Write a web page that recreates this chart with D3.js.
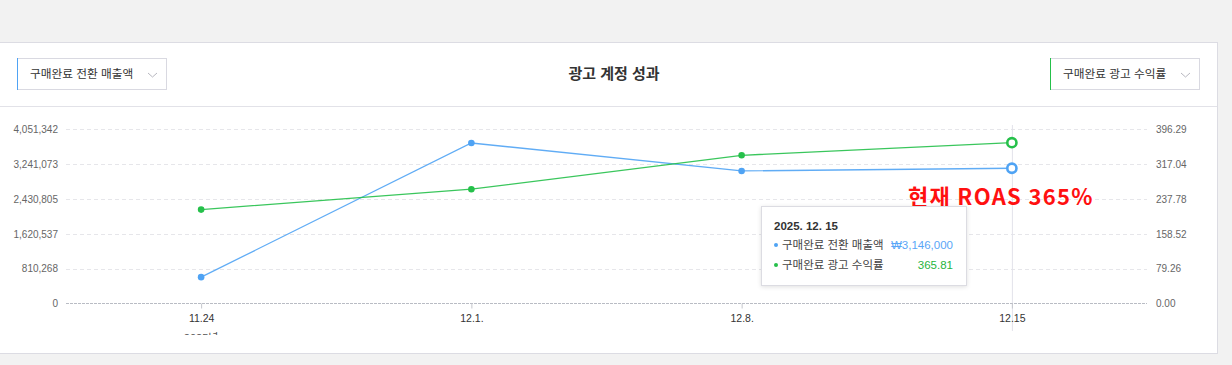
<!DOCTYPE html>
<html><head><meta charset="utf-8">
<script src="https://cdn.jsdelivr.net/npm/d3@7"></script>
<style>
html,body{margin:0;padding:0;background:#f2f2f2;}
svg{display:block;font-family:"Liberation Sans","Noto Sans CJK KR",sans-serif;}
</style></head>
<body><svg id="c" width="1232" height="365"></svg>
<script>
const categories = ['11.24','12.1.','12.8.','12.15'];
const salesValues = [613000, 3733000, 3083000, 3146000];
const roasValues = [213.6, 260.0, 337.2, 365.81];
const leftTicks = [0, 810268, 1620537, 2430805, 3241073, 4051342];
const rightTicks = [0, 79.26, 158.52, 237.78, 317.04, 396.29];
const rightTickLabels = ['0.00','79.26','158.52','237.78','317.04','396.29'];
const seriesNames = ['구매완료 전환 매출액','구매완료 광고 수익률'];
const title = '광고 계정 성과';
const tooltipDate = '2025. 12. 15';
const tooltipValues = ['₩3,146,000','365.81'];
const annotation = '현재 ROAS 365%';
const activeIndex = 3;

const blue = '#4fa3f4', green = '#25c04a';
const svg = d3.select('#c');

// card
svg.append('rect').attr('x',-2).attr('y',42.5).attr('width',1219.5).attr('height',311)
  .attr('fill','#fff').attr('stroke','#dcdce3');
svg.append('line').attr('x1',0).attr('x2',1217).attr('y1',106.5).attr('y2',106.5).attr('stroke','#e2e2e8');

// title
svg.append('text').attr('x',614).attr('y',79).attr('text-anchor','middle')
  .attr('font-size',15).attr('font-weight','bold').attr('fill','#333').text(title);

// dropdowns
function dropdown(x, label, color){
  const g = svg.append('g');
  g.append('rect').attr('x',x+0.5).attr('y',58.5).attr('width',149).attr('height',31)
    .attr('fill','#fff').attr('stroke','#d9d9e1');
  g.append('line').attr('x1',x+0.5).attr('x2',x+0.5).attr('y1',58).attr('y2',90).attr('stroke',color);
  g.append('text').attr('x',x+13).attr('y',78).attr('font-size',11.7).attr('fill','#333').text(label);
  g.append('path').attr('d',`M${x+131},${73} l4.5,4 l4.5,-4`).attr('fill','none').attr('stroke','#b8b8c0').attr('stroke-width',1);
}
dropdown(17, seriesNames[0], blue);
dropdown(1050, seriesNames[1], green);

// scales
const x = d3.scalePoint().domain(categories).range([66,1147]).padding(0.5);
const yL = d3.scaleLinear().domain([0, 4051342]).range([303.5, 129.3]);
const yR = d3.scaleLinear().domain([0, 396.29]).range([303.5, 129.3]);

// gridlines
svg.append('g').selectAll('line').data(leftTicks.slice(1)).join('line')
  .attr('x1',66).attr('x2',1147).attr('y1',d=>Math.round(yL(d))+0.5).attr('y2',d=>Math.round(yL(d))+0.5)
  .attr('stroke','#e6e6ea').attr('stroke-dasharray','4,3');

// left axis
const axL = svg.append('g').attr('transform','translate(66,0)')
  .call(d3.axisLeft(yL).tickValues(leftTicks).tickSize(0).tickPadding(8).tickFormat(d3.format(',')));
axL.select('.domain').remove();
axL.selectAll('text').attr('font-size',10).attr('fill','#666').attr('font-family','Liberation Sans, sans-serif');

// right axis
const axR = svg.append('g').attr('transform','translate(1147,0)')
  .call(d3.axisRight(yR).tickValues(rightTicks).tickSize(0).tickPadding(9).tickFormat((d,i)=>rightTickLabels[i]));
axR.select('.domain').remove();
axR.selectAll('text').attr('font-size',10).attr('fill','#666').attr('font-family','Liberation Sans, sans-serif');

// crosshair
svg.append('line').attr('x1',x(categories[activeIndex])+0.5).attr('x2',x(categories[activeIndex])+0.5)
  .attr('y1',125).attr('y2',331).attr('stroke','#e2e2ea');

// bottom axis
const axB = svg.append('g').attr('transform','translate(0,303.5)')
  .call(d3.axisBottom(x).tickSize(5).tickPadding(6));
axB.select('.domain').attr('d','M66,0H1147').attr('stroke','#b9bcc4').attr('stroke-dasharray','3,1');
axB.selectAll('.tick line').attr('stroke','#c4c6cc');
axB.selectAll('text').attr('font-size',10.5).attr('fill','#333').attr('font-family','Liberation Sans, sans-serif');

// clipped secondary label
const clip = svg.append('defs').append('clipPath').attr('id','bclip');
clip.append('rect').attr('x',0).attr('y',0).attr('width',1232).attr('height',335);
svg.append('text').attr('clip-path','url(#bclip)').attr('x',x(categories[0])).attr('y',342)
  .attr('text-anchor','middle').attr('font-size',11).attr('fill','#555').text('2025년');

// lines
const lineL = d3.line().x((d,i)=>x(categories[i])).y(d=>yL(d));
const lineR = d3.line().x((d,i)=>x(categories[i])).y(d=>yR(d));
svg.append('path').datum(salesValues).attr('d',lineL).attr('fill','none').attr('stroke',blue).attr('stroke-width',1.3).attr('stroke-opacity',0.9);
svg.append('path').datum(roasValues).attr('d',lineR).attr('fill','none').attr('stroke',green).attr('stroke-width',1.3).attr('stroke-opacity',0.9);

function markers(vals, sc, color){
  svg.append('g').selectAll('circle').data(vals).join('circle')
    .attr('cx',(d,i)=>x(categories[i])).attr('cy',d=>sc(d))
    .attr('r',(d,i)=>i===activeIndex?4.6:3.3)
    .attr('fill',(d,i)=>i===activeIndex?'#fff':color)
    .attr('stroke',color).attr('stroke-width',(d,i)=>i===activeIndex?2.6:0);
}
markers(salesValues, yL, blue);
markers(roasValues, yR, green);

// annotation
svg.append('text').attr('x',908).attr('y',205).attr('font-size',22).attr('font-weight','bold')
  .attr('letter-spacing',1.3)
  .attr('fill','#ff1010').attr('font-family','Noto Sans CJK KR, sans-serif').text(annotation);

// tooltip
const defs = svg.select('defs');
const f = defs.append('filter').attr('id','sh').attr('x','-10%').attr('y','-10%').attr('width','130%').attr('height','140%');
f.append('feDropShadow').attr('dx',0).attr('dy',1).attr('stdDeviation',2).attr('flood-color','#000').attr('flood-opacity',0.12);
const tt = svg.append('g').attr('transform','translate(761,206)');
tt.append('rect').attr('x',0.5).attr('y',0.5).attr('width',205).attr('height',79).attr('fill','#fff')
  .attr('stroke','#dcdce2').attr('filter','url(#sh)');
tt.append('text').attr('x',13).attr('y',24).attr('font-size',11.5).attr('font-weight','bold').attr('fill','#333').text(tooltipDate);
const rows = [[blue, '#5aa6f7'],[green,'#1fb53e']];
rows.forEach((r,i)=>{
  const yy = 43 + i*20;
  tt.append('circle').attr('cx',15).attr('cy',yy-4).attr('r',2).attr('fill',r[0]);
  tt.append('text').attr('x',21).attr('y',yy).attr('font-size',11.5).attr('fill','#444').text(seriesNames[i]);
  tt.append('text').attr('x',192).attr('y',yy).attr('text-anchor','end').attr('font-size',11.5).attr('fill',r[1]).text(tooltipValues[i]);
});
</script></body></html>
